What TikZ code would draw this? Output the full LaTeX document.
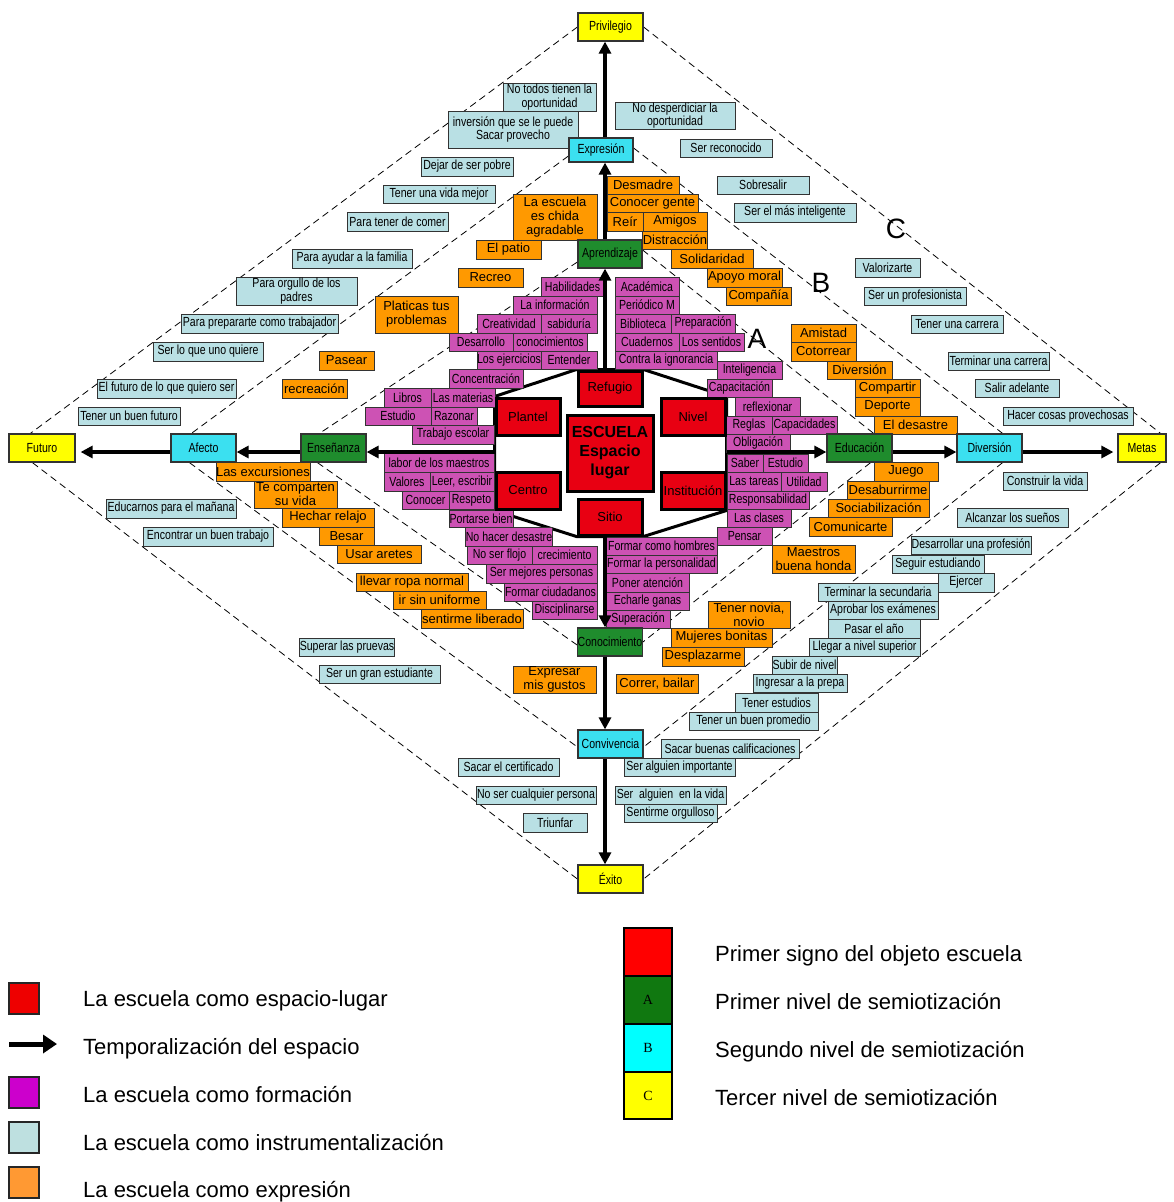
\documentclass[tikz,border=0pt]{standalone}
\usepackage{fontspec}
\setmainfont{Liberation Sans}
\newfontfamily\narrowf[FakeStretch=0.8]{Liberation Sans}
\newfontfamily\serift{Liberation Serif}
\usetikzlibrary{arrows.meta}

\definecolor{lightb}{RGB}{185,224,228}
\definecolor{magb}{RGB}{205,82,180}
\definecolor{orb}{RGB}{255,153,0}
\definecolor{redb}{RGB}{232,0,18}
\definecolor{greenb}{RGB}{31,140,45}
\definecolor{cyanb}{RGB}{59,224,240}
\definecolor{yelb}{RGB}{255,255,0}
\definecolor{lgred}{RGB}{238,0,0}
\definecolor{lgmag}{RGB}{204,0,204}
\definecolor{lgblue}{RGB}{190,224,224}
\definecolor{lgor}{RGB}{255,153,51}
\definecolor{lggreen}{RGB}{16,120,16}
\definecolor{lgcyan}{RGB}{0,255,255}
\definecolor{lgred2}{RGB}{255,0,0}

\pgfdeclarelayer{bg}
\pgfsetlayers{bg,main}

% box from (x1,y1) to (x2,y2), y growing downwards
\newcommand\placebox[7]{%
  \pgfmathsetmacro\pbw{#5-#3}\pgfmathsetmacro\pbh{#6-#4}%
  \pgfmathsetmacro\pbx{(#3+#5)/2}\pgfmathsetmacro\pby{(#4+#6)/2}%
  \node[#2,minimum width=\pbw pt,minimum height=\pbh pt] (#1) at (\pbx,\pby) {#7};}

\tikzset{
  bxbase/.style={draw=black!80, line width=0.9pt, inner sep=0pt, align=center, text=black},
  lb/.style={bxbase, fill=lightb, font=\narrowf\fontsize{13.2}{13.5}\selectfont},
  mg/.style={bxbase, fill=magb, font=\narrowf\fontsize{13.2}{13.5}\selectfont},
  og/.style={bxbase, fill=orb, font=\fontsize{13}{14}\selectfont},
  rd/.style={draw=black, line width=3pt, fill=redb, inner sep=0pt, align=center, font=\fontsize{13}{14}\selectfont},
  sk/.style={draw=black!80, line width=1.2pt, inner sep=0pt, font=\narrowf\fontsize{13.2}{14}\selectfont},
  yl/.style={sk, fill=yelb},
  cy/.style={sk, fill=cyanb},
  gr/.style={sk, fill=greenb},
  flow/.style={line width=3.2pt, -{Triangle[length=12pt,width=12pt]}},
  dsh/.style={line width=0.8pt, dash pattern=on 7pt off 4.5pt},
  hexline/.style={line width=3pt, line join=miter},
  bigl/.style={font=\fontsize{28}{30}\selectfont, inner sep=0pt},
  lsq/.style={draw=black!85, line width=1.5pt, inner sep=0pt},
  lcol/.style={draw=black, line width=2pt, inner sep=0pt, font=\serift\fontsize{14}{16}\selectfont},
  legtxt/.style={anchor=base west, inner sep=0pt, font=\fontsize{22}{26}\selectfont},
}

\begin{document}
\begin{tikzpicture}[x=1pt,y=-1pt]
\useasboundingbox (0,0) rectangle (1174,1202);
\begin{pgfonlayer}{bg}
  \fill[white] (0,0) rectangle (1174,1202);
\end{pgfonlayer}

% ---------- light blue: school as an instrument ----------
\placebox{t1}{lb}{503}{83}{596}{111}{No todos tienen la\\oportunidad}
\placebox{t2}{lb}{448}{111}{578}{148}{inversión que se le puede\\Sacar provecho}
\placebox{t3}{lb}{615}{102}{735}{129}{No desperdiciar la\\oportunidad}
\placebox{t4}{lb}{680}{139}{772}{157}{Ser reconocido}
\placebox{t5}{lb}{421}{157}{513}{176}{Dejar de ser pobre}
\placebox{t6}{lb}{383}{185}{495}{203}{Tener una vida mejor}
\placebox{t7}{lb}{347}{212}{448}{231}{Para tener de comer}
\placebox{t8}{lb}{292}{249}{412}{268}{Para ayudar a la familia}
\placebox{t9}{lb}{236}{277}{357}{305}{Para orgullo de los\\padres}
\placebox{t10}{lb}{181}{314}{338}{333}{Para prepararte como trabajador}
\placebox{t11}{lb}{153}{342}{263}{361}{Ser lo que uno quiere}
\placebox{t12}{lb}{97}{379}{236}{398}{El futuro de lo que quiero ser}
\placebox{t13}{lb}{78}{407}{180}{425}{Tener un buen futuro}
\placebox{t14}{lb}{717}{176}{809}{194}{Sobresalir}
\placebox{t15}{lb}{734}{203}{856}{222}{Ser el más inteligente}
\placebox{t16}{lb}{855}{258}{920}{277}{Valorizarte}
\placebox{t17}{lb}{864}{287}{966}{305}{Ser un profesionista}
\placebox{t18}{lb}{911}{315}{1003}{333}{Tener una carrera}
\placebox{t19}{lb}{948}{352}{1049}{370}{Terminar una carrera}
\placebox{t20}{lb}{975}{379}{1059}{397}{Salir adelante}
\placebox{t21}{lb}{1003}{407}{1133}{425}{Hacer cosas provechosas}
\placebox{t22}{lb}{1003}{472}{1087}{490}{Construir la vida}
\placebox{t23}{lb}{957}{508}{1068}{527}{Alcanzar los sueños}
\placebox{t24}{lb}{911}{536}{1031}{554}{Desarrollar una profesión}
\placebox{t25}{lb}{892}{555}{984}{573}{Seguir estudiando}
\placebox{t26}{lb}{938}{573}{994}{592}{Ejercer}
\placebox{t27}{lb}{818}{583}{938}{601}{Terminar la secundaria}
\placebox{t28}{lb}{828}{601}{938}{619}{Aprobar los exámenes}
\placebox{t29}{lb}{828}{619}{920}{638}{Pasar el año}
\placebox{t30}{lb}{809}{638}{920}{656}{Llegar a nivel superior}
\placebox{t31}{lb}{772}{656}{837}{674}{Subir de nivel}
\placebox{t32}{lb}{753}{674}{847}{692}{Ingresar a la prepa}
\placebox{t33}{lb}{735}{693}{818}{712}{Tener estudios}
\placebox{t34}{lb}{689}{712}{818}{730}{Tener un buen promedio}
\placebox{t35}{lb}{661}{739}{799}{758}{Sacar buenas calificaciones}
\placebox{t36}{lb}{624}{758}{735}{776}{Ser alguien importante}
\placebox{t37}{lb}{615}{786}{726}{804}{Ser\ \ alguien\ \ en la vida}
\placebox{t38}{lb}{624}{804}{717}{822}{Sentirme orgulloso}
\placebox{t39}{lb}{458}{758}{559}{776}{Sacar el certificado}
\placebox{t40}{lb}{476}{786}{596}{804}{No ser cualquier persona}
\placebox{t41}{lb}{523}{813}{587}{832}{Triunfar}
\placebox{t42}{lb}{106}{499}{236}{518}{Educarnos para el mañana}
\placebox{t43}{lb}{143}{527}{273}{546}{Encontrar un buen trabajo}
\placebox{t44}{lb}{301}{638}{393}{656}{Superar las pruevas}
\placebox{t45}{lb}{319}{665}{440}{683}{Ser un gran estudiante}

% ---------- orange: school as expression ----------
\placebox{o1}{og}{607}{176}{679}{194}{Desmadre}
\placebox{o2}{og}{607}{194}{698}{212}{Conocer gente}
\placebox{o3}{og}{607}{212}{643}{231}{Reír}
\placebox{o4}{og}{643}{212}{707}{231}{Amigos}
\placebox{o5}{og}{643}{231}{707}{249}{Distracción}
\placebox{o6}{og}{671}{249}{753}{268}{Solidaridad}
\placebox{o7}{og}{707}{268}{782}{287}{Apoyo moral}
\placebox{o8}{og}{726}{287}{791}{305}{Compañía}
\placebox{o9}{og}{513}{194}{597}{240}{La escuela\\es chida\\agradable}
\placebox{o10}{og}{476}{240}{541}{259}{El patio}
\placebox{o11}{og}{458}{268}{523}{287}{Recreo}
\placebox{o12}{og}{375}{296}{458}{333}{Platicas tus\\problemas}
\placebox{o13}{og}{319}{351}{374}{370}{Pasear}
\placebox{o14}{og}{282}{379}{347}{398}{recreación}
\placebox{o15}{og}{791}{324}{856}{342}{Amistad}
\placebox{o16}{og}{791}{342}{856}{361}{Cotorrear}
\placebox{o17}{og}{827}{361}{892}{379}{Diversión}
\placebox{o18}{og}{855}{379}{920}{397}{Compartir}
\placebox{o19}{og}{855}{397}{920}{416}{Deporte}
\placebox{o20}{og}{874}{416}{957}{434}{El desastre}
\placebox{o21}{og}{874}{462}{938}{481}{Juego}
\placebox{o22}{og}{847}{481}{929}{499}{Desaburrirme}
\placebox{o23}{og}{828}{499}{929}{517}{Sociabilización}
\placebox{o24}{og}{809}{517}{892}{536}{Comunicarte}
\placebox{o25}{og}{772}{545}{855}{573}{Maestros\\buena honda}
\placebox{o26}{og}{708}{601}{790}{628}{Tener novia,\\novio}
\placebox{o27}{og}{671}{628}{772}{647}{Mujeres bonitas}
\placebox{o28}{og}{662}{647}{744}{666}{Desplazarme}
\placebox{o29}{og}{616}{674}{698}{693}{Correr, bailar}
\placebox{o30}{og}{513}{666}{596}{693}{Expresar\\mis gustos}
\placebox{o31}{og}{217}{462}{309}{481}{Las excursiones}
\placebox{o32}{og}{254}{481}{337}{508}{Te comparten\\su vida}
\placebox{o33}{og}{282}{508}{374}{527}{Hechar relajo}
\placebox{o34}{og}{319}{527}{374}{545}{Besar}
\placebox{o35}{og}{337}{545}{421}{563}{Usar aretes}
\placebox{o36}{og}{356}{573}{468}{591}{llevar ropa normal}
\placebox{o37}{og}{393}{591}{486}{609}{ir sin uniforme}
\placebox{o38}{og}{421}{609}{523}{628}{sentirme liberado}

% ---------- magenta: school as formation ----------
\placebox{m1}{mg}{541}{277}{604}{296}{Habilidades}
\placebox{m2}{mg}{513}{296}{597}{314}{La información}
\placebox{m3}{mg}{477}{314}{541}{333}{Creatividad}
\placebox{m4}{mg}{541}{314}{597}{333}{sabiduría}
\placebox{m5}{mg}{449}{333}{513}{351}{Desarrollo}
\placebox{m6}{mg}{513}{333}{587}{351}{conocimientos}
\placebox{m7}{mg}{477}{351}{541}{369}{Los ejercicios}
\placebox{m8}{mg}{541}{351}{597}{369}{Entender}
\placebox{m9}{mg}{449}{369}{523}{388}{Concentración}
\placebox{m10}{mg}{384}{388}{431}{407}{Libros}
\placebox{m11}{mg}{431}{388}{495}{407}{Las materias}
\placebox{m12}{mg}{365}{407}{431}{425}{Estudio}
\placebox{m13}{mg}{431}{407}{477}{425}{Razonar}
\placebox{m14}{mg}{412}{425}{494}{444}{Trabajo escolar}
\placebox{m15}{mg}{615}{277}{679}{296}{Académica}
\placebox{m16}{mg}{615}{296}{679}{314}{Periódico M}
\placebox{m17}{mg}{615}{314}{671}{333}{Biblioteca}
\placebox{m18}{mg}{671}{314}{735}{333}{Preparación}
\placebox{m19}{mg}{615}{333}{679}{351}{Cuadernos}
\placebox{m20}{mg}{679}{333}{744}{351}{Los sentidos}
\placebox{m21}{mg}{615}{351}{717}{369}{Contra la ignorancia}
\placebox{m22}{mg}{717}{361}{782}{379}{Inteligencia}
\placebox{m23}{mg}{707}{379}{772}{397}{Capacitación}
\placebox{m24}{mg}{735}{397}{800}{416}{reflexionar}
\placebox{m25}{mg}{726}{416}{772}{434}{Reglas}
\placebox{m26}{mg}{772}{416}{837}{434}{Capacidades}
\placebox{m27}{mg}{726}{434}{790}{452}{Obligación}
\placebox{m28}{mg}{727}{454}{763}{472}{Saber}
\placebox{m29}{mg}{763}{454}{808}{472}{Estudio}
\placebox{m30}{mg}{727}{472}{781}{491}{Las tareas}
\placebox{m31}{mg}{781}{472}{827}{491}{Utilidad}
\placebox{m32}{mg}{727}{491}{809}{509}{Responsabilidad}
\placebox{m33}{mg}{727}{509}{791}{527}{Las clases}
\placebox{m34}{mg}{717}{527}{772}{545}{Pensar}
\placebox{m35}{mg}{606}{537}{717}{555}{Formar como hombres}
\placebox{m36}{mg}{606}{555}{717}{573}{Formar la personalidad}
\placebox{m37}{mg}{606}{573}{689}{592}{Poner atención}
\placebox{m38}{mg}{606}{592}{689}{610}{Echarle ganas}
\placebox{m39}{mg}{606}{610}{670}{628}{Superación}
\placebox{m40}{mg}{384}{453}{494}{472}{labor de los maestros}
\placebox{m41}{mg}{384}{472}{430}{491}{Valores}
\placebox{m42}{mg}{430}{472}{494}{491}{Leer, escribir}
\placebox{m43}{mg}{402}{491}{449}{509}{Conocer}
\placebox{m44}{mg}{449}{491}{494}{509}{Respeto}
\placebox{m45}{mg}{449}{510}{513}{527}{Portarse bien}
\placebox{m46}{mg}{467}{527}{551}{546}{No hacer desastre}
\placebox{m47}{mg}{467}{546}{532}{564}{No ser flojo}
\placebox{m48}{mg}{532}{546}{597}{564}{crecimiento}
\placebox{m49}{mg}{486}{564}{597}{583}{Ser mejores personas}
\placebox{m50}{mg}{504}{583}{597}{601}{Formar ciudadanos}
\placebox{m51}{mg}{532}{601}{597}{619}{Disciplinarse}

% ---------- the school as space-place ----------
\placebox{refugio}{rd}{578}{371}{642}{406}{Refugio}
\placebox{plantel}{rd}{496}{398}{560}{435}{Plantel}
\placebox{nivel}{rd}{661}{398}{725}{435}{Nivel}
\placebox{escuela}{rd, font=\bfseries\fontsize{16}{19}\selectfont}{567}{415}{653}{491}{ESCUELA\\Espacio\\lugar}
\placebox{centro}{rd}{496}{472}{560}{509}{Centro}
\placebox{institucion}{rd}{661}{472}{725}{509}{Institución}
\placebox{sitio}{rd}{578}{499}{642}{535}{Sitio}

% ---------- semiotization levels ----------
\placebox{privilegio}{yl}{578}{13}{643}{41}{Privilegio}
\placebox{expresion}{cy}{569}{138}{633}{162}{Expresión}
\placebox{aprendizaje}{gr}{578}{240}{642}{268}{Aprendizaje}
\placebox{futuro}{yl}{9}{434}{75}{462}{Futuro}
\placebox{afecto}{cy}{171}{434}{236}{462}{Afecto}
\placebox{ensenanza}{gr}{301}{434}{366}{462}{Enseñanza}
\placebox{educacion}{gr}{827}{434}{892}{462}{Educación}
\placebox{diversion}{cy}{957}{434}{1022}{462}{Diversión}
\placebox{metas}{yl}{1118}{434}{1166}{462}{Metas}
\placebox{conocimiento}{gr}{578}{628}{642}{656}{Conocimiento}
\placebox{convivencia}{cy}{578}{730}{643}{758}{Convivencia}
\placebox{exito}{yl}{578}{865}{643}{893}{Éxito}

\node[bigl] (labA) at (757,339) {A};
\node[bigl] (labB) at (821,283) {B};
\node[bigl] (labC) at (896,229) {C};

% axis reference lines for the arrows
\coordinate (vx) at (605,0);
\coordinate (hy) at (0,452);

\begin{pgfonlayer}{bg}
  % level C
  \draw[dsh] (privilegio.west) -- ([xshift=22pt]futuro.north west);
  \draw[dsh] (privilegio.east) -- ([xshift=-6pt]metas.north east);
  \draw[dsh] ([xshift=-6pt]metas.south east) -- (exito.east);
  \draw[dsh] ([xshift=24pt]futuro.south west) -- (exito.west);
  % level B
  \draw[dsh] ([yshift=-6pt]expresion.west) -- ([xshift=21pt]afecto.north west);
  \draw[dsh] ([yshift=2pt]expresion.east) -- ([xshift=-20pt]diversion.north east);
  \draw[dsh] ([xshift=-20pt]diversion.south east) -- ([yshift=-3pt]convivencia.east);
  \draw[dsh] ([xshift=19pt]afecto.south west) -- ([yshift=-3pt]convivencia.west);
  % level A
  \draw[dsh] ([yshift=-8pt]aprendizaje.west) -- ([xshift=19pt]ensenanza.north west);
  \draw[dsh] ([yshift=4pt]aprendizaje.east) -- ([xshift=-19pt]educacion.north east);
  \draw[dsh] ([xshift=-22pt]educacion.south east) -- (conocimiento.east);
  \draw[dsh] ([xshift=17pt]ensenanza.south west) -- ([yshift=-3pt]conocimiento.west);
  % hexagon around the place
  \draw[hexline] (refugio.north west) -- (plantel.north west) -- (centro.south west)
     -- (sitio.south west) -- (sitio.south east) -- (institucion.south east)
     -- (nivel.north east) -- (refugio.north east) -- cycle;
\end{pgfonlayer}

% temporalization of space
\draw[flow] (refugio.north -| vx) -- (aprendizaje.south -| vx);
\draw[flow] (aprendizaje.north -| vx) -- (expresion.south -| vx);
\draw[flow] (expresion.north -| vx) -- (privilegio.south -| vx);
\draw[flow] (sitio.south -| vx) -- (conocimiento.north -| vx);
\draw[flow] (conocimiento.south -| vx) -- (convivencia.north -| vx);
\draw[flow] (convivencia.south -| vx) -- (exito.north -| vx);
\draw[flow] (plantel.west |- hy) -- (ensenanza.east |- hy);
\draw[flow] (ensenanza.west |- hy) -- (afecto.east |- hy);
\draw[flow] (afecto.west |- hy) -- ([xshift=5pt]futuro.east |- hy);
\draw[flow] (nivel.east |- hy) -- (educacion.west |- hy);
\draw[flow] (educacion.east |- hy) -- (diversion.west |- hy);
\draw[flow] (diversion.east |- hy) -- ([xshift=-4pt]metas.west |- hy);

% ---------- legend ----------
\placebox{lg1}{lsq, fill=lgred}{9}{983}{39}{1014}{}
\coordinate (lga) at (9,1044);
\coordinate (lgb) at (57,1044);
\draw[line width=5pt, -{Triangle[length=14pt,width=18pt]}] (lga) -- (lgb);
\placebox{lg3}{lsq, fill=lgmag}{9}{1077}{39}{1108}{}
\placebox{lg4}{lsq, fill=lgblue}{9}{1122}{39}{1153}{}
\placebox{lg5}{lsq, fill=lgor}{9}{1167}{39}{1198}{}
\node[legtxt] (lt1) at (83,1006) {La escuela como espacio-lugar};
\node[legtxt] (lt2) at (83,1054) {Temporalización del espacio};
\node[legtxt] (lt3) at (83,1102) {La escuela como formación};
\node[legtxt] (lt4) at (83,1150) {La escuela como instrumentalización};
\node[legtxt] (lt5) at (83,1197) {La escuela como expresión};

\placebox{lc1}{lcol, fill=lgred2}{624}{928}{672}{976}{}
\placebox{lc2}{lcol, fill=lggreen}{624}{976}{672}{1024}{A}
\placebox{lc3}{lcol, fill=lgcyan}{624}{1024}{672}{1072}{B}
\placebox{lc4}{lcol, fill=yelb}{624}{1072}{672}{1119}{C}
\node[legtxt] (rt1) at (715,961) {Primer signo del objeto escuela};
\node[legtxt] (rt2) at (715,1009) {Primer nivel de semiotización};
\node[legtxt] (rt3) at (715,1057) {Segundo nivel de semiotización};
\node[legtxt] (rt4) at (715,1105) {Tercer nivel de semiotización};
\end{tikzpicture}
\end{document}
